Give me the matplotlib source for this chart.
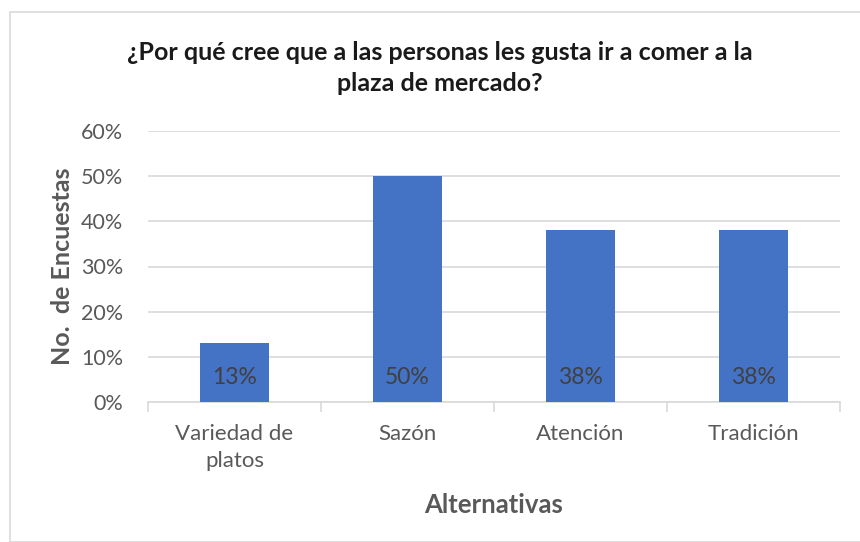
import numpy as np
import matplotlib.pyplot as plt
from matplotlib.ticker import PercentFormatter
from matplotlib.patches import Rectangle

# datos de la encuesta
categorias = ['Variedad de\nplatos', 'Sazón', 'Atención', 'Tradición']
valores = [0.13, 0.50, 0.38, 0.38]
etiquetas = ['13%', '50%', '38%', '38%']
y_ticks = [0, 0.1, 0.2, 0.3, 0.4, 0.5, 0.6]

plt.rcParams['font.family'] = ['Lato', 'DejaVu Sans']

W, H = 860, 542
fig = plt.figure(figsize=(W / 100, H / 100), dpi=100)

# marco del grafico (estilo Excel)
fig.patches.append(Rectangle((10 / W, 0), 1.2, (H - 12) / H, transform=fig.transFigure,
                             fill=False, edgecolor='#d9d9d9', linewidth=1.2))

ax = fig.add_axes([148 / W, (H - 402) / H, (840 - 148) / W, (402 - 131) / H])
x = np.arange(len(categorias))
ax.bar(x, valores, width=0.4, color='#4472c4', zorder=3)

for xi, lab in zip(x, etiquetas):
    ax.text(xi, 0.055, lab, ha='center', va='center', fontsize=16.5,
            color='#404040', zorder=4)

ax.set_xlim(-0.5, len(categorias) - 0.5)
ax.set_ylim(0, 0.6)
ax.set_yticks(y_ticks)
ax.yaxis.set_major_formatter(PercentFormatter(1.0, decimals=0))
ax.grid(axis='y', color='#d9d9d9', linewidth=1.2, zorder=0)

for s in ['top', 'right', 'left']:
    ax.spines[s].set_visible(False)
ax.spines['bottom'].set_color('#d9d9d9')
ax.spines['bottom'].set_linewidth(1.2)

ax.set_xticks(x)
ax.set_xticklabels(categorias, fontsize=16, color='#595959', linespacing=1.4)
ax.set_xticks(np.arange(-0.5, len(categorias)), minor=True)
ax.tick_params(axis='x', which='major', length=0, pad=16)
ax.tick_params(axis='x', which='minor', length=7, color='#d9d9d9', width=1.2)
ax.tick_params(axis='y', length=0, labelsize=15.5, labelcolor='#595959', pad=18)

ax.set_xlabel('Alternativas', fontsize=18.5, fontweight='bold', color='#595959', labelpad=16)
ax.set_ylabel('No.  de Encuestas', fontsize=18, fontweight='bold', color='#595959', labelpad=5)

fig.text(440 / W, 1 - 68 / H, '¿Por qué cree que a las personas les gusta ir a comer a la\nplaza de mercado?',
         ha='center', va='center', fontsize=18, fontweight='bold', color='#1a1a1a',
         linespacing=1.45)

fig.savefig('out.png', dpi=100)
